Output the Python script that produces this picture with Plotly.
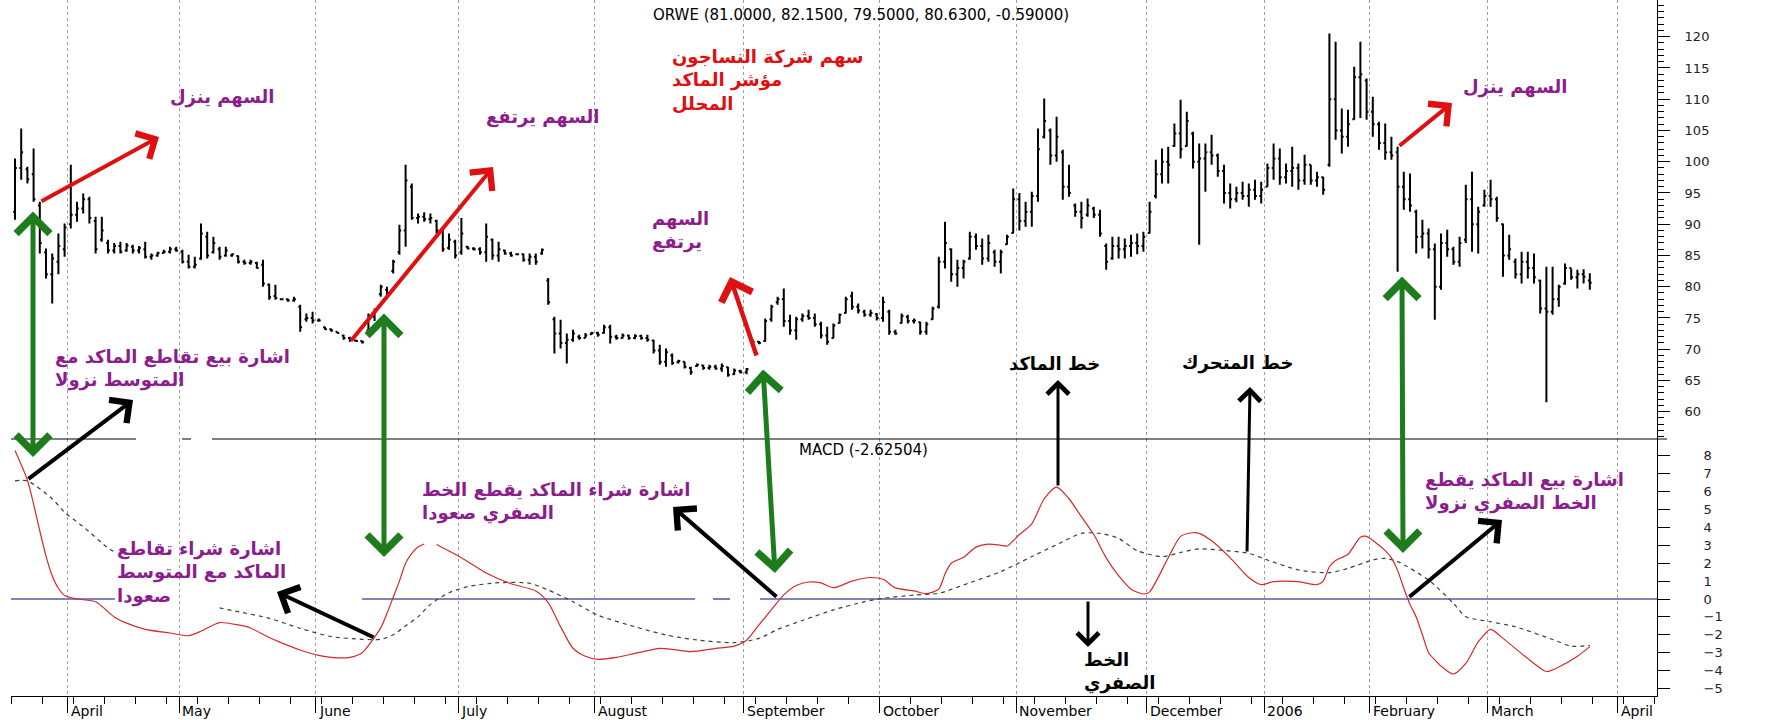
import plotly.graph_objects as go

# ---------------- data ----------------
title_text = "ORWE (81.0000, 82.1500, 79.5000, 80.6300, -0.59000)"
macd_label = "MACD (-2.62504)"

# index of the first trading day of each month (bar index) and its label
month_first_bar = [9, 27, 49, 72, 94, 118, 140, 162, 183, 202, 219, 238, 259]
month_labels = ["April", "May", "June", "July", "August", "September", "October",
                "November", "December", "2006", "February", "March", "April"]

price_ticks = [60, 65, 70, 75, 80, 85, 90, 95, 100, 105, 110, 115, 120]
macd_ticks = [-5, -4, -3, -2, -1, 0, 1, 2, 3, 4, 5, 6, 7, 8]

opens = [
    92.0, 99.0, 98.8, 98.0, 93.0, 85.5, 82.0, 84.0, 86.0,
    90.0, 91.5, 92.5, 94.0, 90.5, 87.5, 87.0, 85.8, 86.5, 85.8, 86.4, 85.8, 86.0, 84.8, 85.0, 85.4, 85.6, 86.0,
    85.6, 84.0, 83.2, 84.5, 88.0, 85.5, 86.0, 85.0, 85.0, 84.9, 84.0, 83.8, 83.8, 83.5, 80.3, 78.5, 78.0, 78.0, 77.8, 76.8, 74.8, 75.0,
    74.6, 73.5, 73.2, 72.8, 72.2, 71.8, 71.4, 71.3, 73.0, 75.2, 78.8, 79.5, 82.5, 85.5, 89.0, 96.0, 91.0, 91.2, 90.8, 90.5, 89.0, 86.2, 87.2,
    85.5, 86.4, 86.1, 86.0, 85.5, 87.5, 85.0, 85.8, 85.3, 85.2, 85.2, 84.3, 84.8, 85.3, 81.0, 74.8, 72.5, 71.0, 71.5, 72.0, 71.8, 72.4,
    72.6, 72.6, 73.5, 72.0, 71.8, 72.2, 71.8, 72.1, 71.8, 71.4, 69.8, 68.0, 69.0, 67.9, 68.0, 67.0, 67.3, 67.4, 67.0, 67.2, 66.9, 67.1, 66.0, 66.5,
    66.3, 70.8, 71.2, 71.3, 74.8, 77.5, 78.0, 74.5, 73.0, 74.8, 75.3, 75.0, 74.0, 72.2, 71.8, 74.2, 75.8, 78.5, 76.8, 76.0, 75.5, 75.6,
    75.0, 76.0, 72.8, 74.2, 75.2, 74.5, 74.3, 72.8, 74.8, 76.8, 84.0, 86.0, 82.0, 83.0, 84.5, 88.0, 86.5, 84.5, 85.5, 84.0, 86.8, 88.6,
    94.0, 90.5, 92.0, 94.5, 104.0, 105.0, 101.0, 101.5, 96.0, 93.0, 92.0, 91.5, 92.5, 91.5, 86.5, 84.5, 86.5, 86.0, 86.5, 87.0, 86.5,
    88.6, 94.5, 98.0, 100.0, 102.5, 104.5, 102.5, 104.5, 100.0, 100.5, 101.5, 101.0, 98.5, 95.0, 94.0, 95.0, 94.5, 95.5, 94.5,
    96.0, 99.0, 100.5, 97.5, 98.5, 99.0, 97.0, 99.5, 97.0, 97.5, 99.5, 110.0, 105.0, 104.0, 106.8, 113.5, 113.0,
    108.0, 106.0, 103.0, 101.5, 101.5, 96.0, 94.0, 92.0, 88.0, 88.5, 86.0, 80.0, 87.0, 86.0, 84.0, 87.5, 94.0, 90.0, 93.0,
    94.5, 94.0, 90.0, 85.0, 84.0, 82.0, 84.0, 83.0, 81.0, 76.5, 76.0, 78.0, 80.5, 83.0, 81.5, 82.0, 81.0,
]
highs = [
    100.5, 105.3, 99.2, 102.1, 93.6, 86.1, 85.3, 88.5, 90.1,
    99.5, 93.6, 94.9, 94.4, 91.2, 91.2, 87.5, 87.0, 87.2, 87.0, 86.7, 86.5, 87.2, 85.3, 85.6, 85.9, 86.4, 86.4,
    85.9, 85.1, 84.8, 90.1, 88.8, 88.0, 86.4, 86.4, 85.3, 85.0, 84.3, 84.3, 84.0, 84.3, 80.5, 80.3, 78.1, 78.1, 78.4, 77.1, 75.7, 76.0,
    74.9, 73.6, 73.3, 72.8, 72.3, 72.0, 71.5, 71.4, 75.7, 76.5, 80.3, 80.0, 84.3, 89.9, 99.5, 96.5, 91.7, 91.9, 91.7, 90.7, 89.1, 88.5, 87.5,
    91.0, 86.5, 86.3, 86.3, 90.1, 87.7, 87.2, 85.9, 85.6, 85.3, 85.3, 85.3, 85.3, 86.1, 81.4, 75.2, 74.7, 72.5, 73.1, 72.3, 72.6, 72.8,
    72.8, 73.9, 73.9, 72.3, 72.5, 72.3, 72.4, 72.3, 72.3, 71.5, 70.7, 70.1, 69.3, 68.3, 68.0, 67.2, 67.7, 67.5, 67.5, 67.5, 67.7, 67.2, 66.9, 66.7,
    67.0, 71.5, 71.3, 74.9, 77.1, 78.4, 79.7, 75.5, 75.2, 75.7, 76.3, 75.7, 74.4, 73.6, 74.1, 75.7, 78.4, 79.2, 77.3, 76.3, 76.3, 75.8,
    78.4, 76.3, 73.1, 75.7, 75.5, 74.9, 74.4, 74.4, 76.8, 84.8, 90.4, 86.1, 84.3, 84.3, 88.8, 88.5, 87.7, 88.3, 85.9, 85.9, 88.3, 95.7,
    95.0, 93.6, 95.2, 105.3, 110.1, 105.3, 107.2, 101.9, 99.5, 93.3, 93.6, 94.1, 92.8, 92.3, 86.9, 88.0, 88.0, 87.7, 88.3, 88.5, 88.8,
    93.6, 100.3, 102.1, 102.4, 106.1, 109.9, 108.0, 104.8, 102.9, 102.9, 104.3, 101.3, 99.5, 96.5, 96.0, 96.8, 96.5, 97.1, 96.8,
    99.7, 102.9, 102.1, 99.7, 102.4, 99.7, 101.1, 99.5, 98.4, 97.6, 120.5, 119.2, 108.5, 108.3, 115.2, 119.2, 113.3,
    110.4, 106.4, 106.1, 104.0, 102.4, 98.4, 98.1, 92.3, 90.7, 89.3, 86.9, 88.5, 89.1, 86.4, 88.0, 96.3, 98.4, 92.8, 95.5,
    97.1, 94.4, 90.1, 88.3, 84.5, 85.6, 85.6, 85.3, 81.1, 83.2, 83.2, 80.3, 83.7, 82.9, 82.7, 82.8, 82.15,
]
lows = [
    90.7, 97.1, 96.5, 93.6, 85.3, 81.3, 77.3, 82.0, 84.8,
    89.3, 90.4, 91.7, 90.1, 85.3, 87.2, 85.3, 85.3, 85.3, 85.6, 85.3, 85.3, 84.5, 84.3, 84.8, 85.3, 85.3, 85.6,
    83.7, 82.9, 82.9, 84.3, 84.5, 85.3, 84.3, 84.8, 84.8, 83.7, 83.5, 83.5, 82.9, 80.0, 77.9, 77.9, 77.9, 77.6, 77.6, 72.8, 74.4, 74.1,
    74.4, 73.1, 72.8, 72.5, 71.5, 71.2, 71.2, 70.9, 72.5, 74.5, 78.4, 78.0, 82.1, 85.1, 86.4, 90.7, 90.1, 90.4, 90.1, 88.5, 85.6, 85.9, 84.5,
    85.1, 86.0, 85.8, 85.1, 84.0, 84.3, 84.0, 85.1, 84.8, 85.1, 84.0, 83.5, 83.5, 85.1, 77.1, 69.3, 70.1, 67.7, 71.2, 71.5, 71.8, 72.3,
    72.0, 72.5, 70.9, 71.5, 71.7, 71.5, 71.6, 71.5, 71.2, 69.3, 67.5, 67.2, 67.5, 67.7, 66.9, 65.9, 67.2, 66.7, 66.7, 66.7, 66.4, 65.6, 65.9, 66.1,
    66.0, 70.7, 70.8, 71.2, 74.4, 77.1, 73.6, 72.3, 71.5, 74.4, 74.7, 73.6, 71.7, 70.7, 71.7, 74.1, 75.7, 76.3, 75.7, 75.2, 75.2, 74.6,
    74.4, 72.3, 72.3, 74.1, 74.1, 74.1, 72.3, 72.3, 74.7, 76.5, 82.9, 80.8, 80.0, 81.3, 84.3, 85.9, 83.5, 84.0, 83.2, 82.1, 86.7, 88.5,
    89.0, 89.6, 89.6, 93.6, 103.7, 99.5, 100.0, 93.9, 94.4, 91.2, 89.3, 91.2, 91.0, 88.0, 82.7, 84.3, 84.5, 84.5, 84.8, 85.2, 85.6,
    88.5, 94.1, 96.5, 96.5, 102.4, 100.5, 102.4, 98.9, 86.7, 95.2, 99.5, 97.6, 93.3, 92.5, 93.5, 93.9, 92.8, 93.9, 93.3,
    96.0, 97.1, 96.3, 96.5, 96.0, 95.5, 96.3, 96.3, 96.0, 94.7, 99.2, 103.5, 101.3, 102.4, 106.7, 107.0, 106.7,
    104.0, 101.9, 100.3, 100.3, 82.4, 92.3, 92.0, 85.3, 86.1, 84.5, 74.7, 79.5, 84.8, 83.5, 83.2, 87.0, 85.6, 85.3, 92.8,
    92.8, 90.4, 81.6, 84.3, 81.3, 80.5, 81.3, 80.5, 75.7, 61.5, 75.5, 76.8, 80.3, 81.1, 79.7, 80.5, 79.5,
]
closes = [
    99.0, 101.5, 97.2, 94.0, 87.0, 82.0, 84.5, 86.5, 89.5,
    91.5, 92.5, 94.0, 91.0, 86.0, 89.0, 85.8, 86.5, 85.6, 86.6, 85.8, 86.2, 84.8, 85.0, 85.4, 85.6, 86.0, 85.8,
    84.0, 83.2, 83.5, 88.5, 85.0, 87.0, 84.8, 85.8, 85.2, 84.0, 83.8, 84.0, 83.0, 80.5, 78.3, 78.2, 78.0, 77.8, 78.0, 73.5, 75.0, 74.6,
    74.6, 73.2, 73.0, 72.6, 71.8, 71.4, 71.3, 71.1, 75.2, 76.0, 80.0, 79.0, 84.0, 89.0, 97.0, 91.0, 91.2, 90.8, 91.0, 89.0, 86.0, 87.5, 85.0,
    88.5, 86.1, 86.0, 85.5, 88.0, 85.0, 86.0, 85.3, 85.0, 85.2, 84.3, 84.8, 84.0, 85.9, 77.5, 72.5, 71.0, 71.5, 72.5, 71.8, 72.2, 72.6,
    72.3, 73.5, 72.0, 71.8, 72.2, 71.8, 72.1, 71.8, 71.5, 69.8, 68.0, 69.5, 67.8, 68.1, 67.2, 66.3, 67.5, 67.0, 67.2, 66.9, 67.3, 65.9, 66.6, 66.3,
    66.8, 71.2, 71.0, 74.5, 76.8, 78.0, 74.5, 73.0, 74.8, 75.3, 75.0, 74.0, 72.2, 71.2, 73.8, 75.5, 78.0, 76.8, 76.2, 75.5, 75.8, 75.0,
    77.5, 72.8, 72.5, 75.3, 74.5, 74.6, 72.8, 74.0, 76.5, 84.0, 87.0, 82.0, 83.0, 84.0, 88.0, 86.5, 84.5, 87.0, 84.0, 85.5, 88.0, 94.0,
    90.5, 92.0, 94.5, 102.0, 106.5, 101.0, 104.0, 96.0, 95.0, 92.0, 91.0, 93.0, 91.5, 88.5, 84.0, 86.5, 86.0, 86.5, 87.0, 86.5, 88.0,
    92.0, 98.0, 100.0, 99.5, 104.5, 102.0, 106.5, 100.0, 100.5, 101.5, 101.0, 98.5, 95.0, 94.0, 95.0, 94.5, 95.5, 94.5, 95.5,
    99.0, 100.5, 97.5, 98.5, 99.0, 97.0, 99.5, 97.0, 97.5, 95.5, 110.0, 105.0, 104.0, 106.0, 113.5, 114.0, 108.0,
    106.0, 103.0, 101.5, 101.0, 96.0, 94.0, 93.0, 88.0, 88.5, 86.0, 80.0, 87.0, 86.0, 84.0, 87.0, 94.0, 90.0, 92.0, 94.5,
    94.0, 91.0, 85.0, 86.0, 82.0, 84.0, 83.0, 81.5, 76.5, 76.0, 78.0, 80.0, 83.0, 81.5, 82.0, 81.6, 80.63,
]

# MACD line (red) and its moving average (dashed), sampled on trading-day index
macd_day = [0, 2, 3, 4, 5, 6, 7, 8, 10, 13, 16, 18, 21, 25, 28, 30, 33, 36, 38, 41, 43, 46, 49, 51, 54, 56,
            57, 59, 60, 61, 62, 63, 64, 65, 66, None, 68, 71, 73, 76, 80, 84, 86, 88, 90, 92, 94, 97, 100,
            104, 106, 109, 113, 116, 118, 120, 122, 124, 126, 128, 130, 132, 135, 138, 140, 142, 145, 147,
            149, 150, 151, 153, 155, 157, 159, 160, 162, 164, 166, 168, 170, 172, 174, 176, 178, 180, 182,
            183, 186, 188, 190, 191, 193, 196, 199, 201, 203, 207, 210, 211, 212, 213, 215, 217, 218, 220,
            221, 222, 223, 224, 225, 226, 227, 228, 229, 230, 232, 234, 236, 238, 240, 243, 245, 247, 249,
            252, 254]
macd_vals = [8.3, 6.65, 5.3, 3.8, 2.4, 1.3, 0.6, 0.2, 0.0, -0.15, -1.0, -1.35, -1.7, -1.9, -2.05, -1.8,
             -1.32, -1.45, -1.62, -2.15, -2.45, -2.85, -3.15, -3.26, -3.26, -3.0, -2.6, -1.6, -0.8, 0.1,
             1.0, 2.0, 2.55, 2.9, 3.07, None, 3.05, 2.5, 2.1, 1.45, 0.85, 0.45, -0.2, -1.55, -2.75, -3.2,
             -3.37, -3.26, -3.04, -2.76, -2.81, -2.94, -2.76, -2.63, -2.3, -1.45, -0.6, 0.23, 0.75, 0.95,
             0.9, 0.63, 1.0, 1.2, 1.1, 0.62, 0.45, 0.3, 0.55, 1.4, 2.0, 2.33, 2.9, 3.07, 3.0, 2.96, 3.6,
             4.2, 5.6, 6.25, 5.6, 4.6, 3.6, 2.3, 1.3, 0.55, 0.28, 0.4, 2.3, 3.5, 3.7, 3.67, 3.25, 2.3, 1.2,
             0.8, 0.97, 0.97, 0.8, 1.0, 1.8, 2.15, 2.5, 3.45, 3.5, 3.0, 2.7, 2.3, 1.6, 0.6, -0.3, -1.0,
             -2.0, -3.0, -3.4, -3.75, -4.19, -3.6, -2.4, -1.7, -2.2, -3.05, -3.6, -4.05, -3.8, -3.2, -2.66]
signal_day = [0, 2, 6, 8, 11, 15, 16, None, 33, 36, 41, 46, 51, 56, 59, 61, 63, 65, 67, 70, 73, 78, 83,
              86, 90, 94, 100, 105, 110, 116, 120, 123, 127, 132, 137, 140, 145, 149, 154, 159, 164, 169,
              172, 175, 178, 181, 185, 188, 191, 194, 199, 202, 207, 212, 215, 219, 221, 223, 228, 232,
              234, 238, 242, 248, 251, 254]
signal_vals = [6.6, 6.6, 5.6, 4.85, 4.04, 2.85, 2.65, None, -0.5, -0.71, -1.08, -1.64, -2.1, -2.25, -2.25,
               -2.0, -1.5, -1.0, -0.3, 0.35, 0.69, 0.91, 0.88, 0.5, -0.15, -0.9, -1.55, -2.01, -2.29, -2.44,
               -2.2, -1.7, -1.2, -0.61, -0.15, 0.04, 0.22, 0.32, 0.91, 1.53, 2.37, 3.2, 3.67, 3.67, 3.39,
               2.7, 2.37, 2.6, 2.8, 2.74, 2.55, 2.18, 1.62, 1.47, 1.71, 2.18, 2.27, 2.09, 1.06, -0.24, -0.99,
               -1.27, -1.55, -2.26, -2.64, -2.59]

# ---------------- layout geometry (pixels) ----------------
W, H = 1786, 720
PL, PR, PT, PB = 11, 1657, 0, 696      # plot area
SPLIT = 439                             # boundary between price and MACD panels
BAR0, BARW = 15.0, 6.2                  # pixel of first bar, pixels per trading day
PRICE_PX = 6.25                         # pixels per price unit
MACD_PX = 17.9                          # pixels per MACD unit

x_range = [(PL - BAR0) / BARW, (PR - BAR0) / BARW]
price_range = [120 - (SPLIT - 36.7) / PRICE_PX, 120 + 36.7 / PRICE_PX]
macd_range = [-(PB - 599) / MACD_PX, (599 - SPLIT) / MACD_PX]
split_frac = (PB - SPLIT) / (PB - PT)


def fx(px):
    return (px - PL) / (PR - PL)


def fy(py):
    return (PB - py) / (PB - PT)


PURPLE = "#8c1d8c"
RED = "#e01010"
GREEN = "#1d7d1d"
AR_FONT = "DejaVu Sans"

days = list(range(len(highs)))
grid_pos = [b - 0.5 for b in month_first_bar]

fig = go.Figure()
fig.add_trace(go.Ohlc(
    x=days, open=opens, high=highs, low=lows, close=closes,
    increasing=dict(line=dict(color="black", width=2)),
    decreasing=dict(line=dict(color="black", width=2)),
    tickwidth=0.3, xaxis="x", yaxis="y", hoverinfo="skip", showlegend=False))
fig.add_trace(go.Scatter(
    x=signal_day, y=signal_vals, mode="lines", connectgaps=False,
    line=dict(color="#2d472d", width=1.2, dash="4px,4px", shape="spline", smoothing=0.7),
    xaxis="x2", yaxis="y2", hoverinfo="skip", showlegend=False))
fig.add_trace(go.Scatter(
    x=macd_day, y=macd_vals, mode="lines", connectgaps=False,
    line=dict(color="#d42a2a", width=1.2, shape="spline", smoothing=0.7),
    xaxis="x2", yaxis="y2", hoverinfo="skip", showlegend=False))

shapes = []
# white patches left by the pasted text boxes (hide the dotted grid only)
erase = [(165, 330, 85, 125), (480, 605, 105, 145), (660, 895, 42, 133), (737, 753, 210, SPLIT),
         (1005, 1100, 350, 378), (1140, 1160, 350, SPLIT), (1465, 1565, 65, 120),
         (105, 330, 513, 620), (170, 186, 513, PB - 1), (415, 700, SPLIT + 1, 547),
         (737, 753, SPLIT + 1, 600), (1078, 1160, 650, PB - 1), (1612, 1628, SPLIT + 1, 547)]
for x0, x1, y0, y1 in erase:
    shapes.append(dict(type="rect", xref="paper", yref="paper", x0=fx(x0), x1=fx(x1),
                       y0=fy(y1), y1=fy(y0), fillcolor="white", line=dict(width=0), layer="between"))
# panel divider
for a, b in [(PL, 136), (182, 191), (212, 1667)]:
    shapes.append(dict(type="line", xref="paper", yref="paper", x0=fx(a), x1=fx(b),
                       y0=fy(SPLIT), y1=fy(SPLIT), line=dict(color="black", width=1), layer="above"))
# MACD zero line
for a, b in [(PL, 115), (362, 695), (713, 730), (760, PR)]:
    shapes.append(dict(type="line", xref="paper", yref="y2", x0=fx(a), x1=fx(b), y0=0, y1=0,
                       line=dict(color="#5a5aa6", width=1.6), layer="between"))

ann = []


def text(xp, yp, s, color, size=18, anchor="center", bold=True, family=AR_FONT):
    ann.append(dict(x=fx(xp), y=fy(yp), xref="paper", yref="paper", text=s, showarrow=False,
                    font=dict(family=family, size=size, color=color,
                              weight="bold" if bold else "normal"),
                    xanchor=anchor, yanchor="middle",
                    align="left" if anchor == "left" else "center"))


def arrow(tx, ty, hx, hy, color, width, size=1.4, both=False):
    d = dict(x=fx(hx), y=fy(hy), xref="paper", yref="paper", ax=tx - hx, ay=ty - hy,
             axref="pixel", ayref="pixel", text="", showarrow=True, arrowhead=4,
             arrowsize=size, arrowwidth=width, arrowcolor=color, standoff=0, startstandoff=0)
    if both:
        d.update(arrowside="end+start", startarrowhead=4, startarrowsize=size)
    ann.append(d)


# titles
text(861, 15, title_text, "black", 15, bold=False)
text(863, 450, macd_label, "black", 15, bold=False)

# Arabic notes
text(222, 97, "السهم ينزل", PURPLE)
text(542, 117, "السهم يرتفع", PURPLE)
text(670, 80, "سهم شركة النساجون<br>مؤشر الماكد<br>المحلل", RED, 18, "left")
text(650, 231, "السهم<br>يرتفع", PURPLE, 18, "left")
text(1054, 363, "خط الماكد", "black")
text(1238, 363, "خط المتحرك", "black")
text(53, 368, "اشارة بيع تقاطع الماكد مع<br>المتوسط نزولا", PURPLE, 18, "left")
text(115, 572, "اشارة شراء تقاطع<br>الماكد مع المتوسط<br>صعودا", PURPLE, 18, "left")
text(420, 501, "اشارة شراء الماكد يقطع الخط<br>الصفري صعودا", PURPLE, 18, "left")
text(1082, 671, "الخط<br>الصفري", "black", 18, "left")
text(1423, 491, "اشارة بيع الماكد يقطع<br>الخط الصفري نزولا", PURPLE, 18, "left")
text(1515, 87, "السهم ينزل", PURPLE)

# arrows
arrow(40, 202, 159, 137, RED, 4)
arrow(350, 342, 493, 167, RED, 4)
arrow(757, 357, 730, 277, RED, 4.5)
arrow(1398, 147, 1452, 103, RED, 4)
arrow(33, 210, 33, 457, GREEN, 5, 1.3, True)
arrow(384, 312, 384, 557, GREEN, 5, 1.3, True)
arrow(763, 368, 775, 573, GREEN, 5, 1.3, True)
arrow(1402, 275, 1403, 553, GREEN, 5, 1.3, True)
arrow(27, 480, 133, 400, "black", 4)
arrow(375, 638, 277, 592, "black", 4)
arrow(778, 598, 673, 507, "black", 4)
arrow(1058, 487, 1058, 380, "black", 3)
arrow(1247, 553, 1250, 387, "black", 3)
arrow(1088, 600, 1088, 647, "black", 3)
arrow(1408, 598, 1502, 520, "black", 4)

# month labels (left-aligned after the month tick)
for pos, lab in zip(grid_pos, month_labels):
    ann.append(dict(x=pos, y=fy(710.5), xref="x2", yref="paper", text=lab, showarrow=False,
                    xanchor="left", yanchor="middle", xshift=2, borderpad=0,
                    font=dict(family="DejaVu Sans", size=14, color="black")))

grid = dict(showgrid=True, gridcolor="#a0a0a0", gridwidth=1, griddash="dot")
fig.update_layout(
    width=W, height=H, margin=dict(l=PL, r=W - PR, t=PT, b=H - PB, autoexpand=False),
    paper_bgcolor="white", plot_bgcolor="white", showlegend=False,
    xaxis=dict(domain=[0, 1], anchor="y", range=x_range, tickmode="array", tickvals=grid_pos,
               showticklabels=False, ticks="", showline=False, zeroline=False,
               rangeslider=dict(visible=False), **grid),
    xaxis2=dict(domain=[0, 1], anchor="y2", range=x_range, tickmode="array", tickvals=grid_pos,
                showticklabels=False, ticks="outside", ticklen=16, tickwidth=1, tickcolor="black",
                minor=dict(ticks="outside", ticklen=7, tickwidth=1, tickcolor="black",
                           tick0=4.5, dtick=5, showgrid=False),
                showline=True, linecolor="black", linewidth=1, zeroline=False, **grid),
    yaxis=dict(domain=[split_frac, 1], anchor="x", side="right", range=price_range,
               tickmode="array", tickvals=price_ticks, ticks="outside", ticklen=12, tickwidth=1,
               tickcolor="black",
               minor=dict(ticks="outside", ticklen=6, tickwidth=1, tickcolor="black", dtick=1,
                          tick0=0, showgrid=False),
               showline=True, linecolor="black", linewidth=1, showgrid=False, zeroline=False,
               ticklabelstandoff=12, tickfont=dict(family="DejaVu Sans", size=13, color="#222")),
    yaxis2=dict(domain=[0, split_frac], anchor="x2", side="right", range=macd_range,
                tickmode="array", tickvals=macd_ticks, ticks="outside", ticklen=12, tickwidth=1,
                tickcolor="black", showline=True, linecolor="black", linewidth=1, showgrid=False,
                zeroline=False, ticklabelstandoff=31,
                tickfont=dict(family="DejaVu Sans", size=13, color="#222")),
    shapes=shapes, annotations=ann,
)

# the page's default 8px body margin would shift the whole figure; remove it
fig.write_html("out.html", config={"displayModeBar": False},
               post_script="document.body.style.margin='0';document.body.style.overflow='hidden';")
